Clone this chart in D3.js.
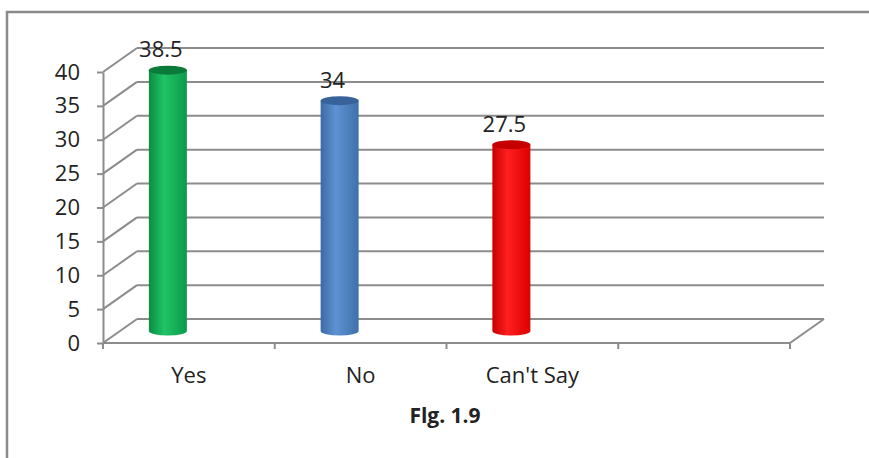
<!DOCTYPE html>
<html>
<head>
<meta charset="utf-8">
<script src="https://cdn.jsdelivr.net/npm/d3@7"></script>
<style>
  html, body { margin: 0; padding: 0; background: #fff; }
  svg { display: block; }
  text { font-family: "Open Sans", sans-serif; fill: #222; }
</style>
</head>
<body>
<div id="chart"></div>
<script>
// Survey responses (percent)
const categories = ["Yes", "No", "Can't Say", " "];
const values = [38.5, 34, 27.5];
const yTicks = [0, 5, 10, 15, 20, 25, 30, 35, 40];
const barColors = [
  { edge: "#0a8c42", light: "#20c466", right: "#0c9a4a", top: "#0a7a3a" },
  { edge: "#3b6ba6", light: "#5e92d2", right: "#3f70aa", top: "#38639a" },
  { edge: "#c80000", light: "#ff1f1f", right: "#dc0000", top: "#c40000" }
];
const caption = "Flg. 1.9";

const W = 869, H = 458;
const svg = d3.select("#chart").append("svg").attr("width", W).attr("height", H);

// outer frame (runs off the right and bottom edge)
svg.append("rect")
  .attr("x", 7).attr("y", 12).attr("width", W).attr("height", H)
  .attr("fill", "#fff").attr("stroke", "#8a8a8a").attr("stroke-width", 2.5);

// front plane scales
const x = d3.scaleBand().domain(categories).range([103, 790]);
const y = d3.scaleLinear().domain([0, 40]).range([343, 72]);
// depth offset of the back wall
const depth = { dx: 34, dy: -24 };
const gridColor = "#8c8c8c";

const walls = svg.append("g").attr("fill", "none").attr("stroke", gridColor).attr("stroke-width", 2);

// back wall gridlines and side-wall diagonals
yTicks.forEach(t => {
  walls.append("line")
    .attr("x1", x.range()[0] + depth.dx).attr("y1", y(t) + depth.dy)
    .attr("x2", x.range()[1] + depth.dx).attr("y2", y(t) + depth.dy);
  walls.append("line")
    .attr("x1", x.range()[0]).attr("y1", y(t))
    .attr("x2", x.range()[0] + depth.dx).attr("y2", y(t) + depth.dy);
});
// floor: front edge and right diagonal
walls.append("line")
  .attr("x1", x.range()[0]).attr("y1", y(0))
  .attr("x2", x.range()[1]).attr("y2", y(0));
walls.append("line")
  .attr("x1", x.range()[1]).attr("y1", y(0))
  .attr("x2", x.range()[1] + depth.dx).attr("y2", y(0) + depth.dy);

// category ticks at band boundaries
const bounds = categories.map(c => x(c)).concat([x.range()[1]]);
walls.selectAll(".xtick").data(bounds).enter().append("line")
  .attr("x1", d => d).attr("x2", d => d)
  .attr("y1", y(0)).attr("y2", y(0) + 6);

// value axis
const yAxis = svg.append("g")
  .attr("transform", `translate(${x.range()[0]},0)`)
  .call(d3.axisLeft(y).tickValues(yTicks).tickSize(6).tickSizeOuter(0).tickPadding(17));
yAxis.select(".domain").attr("stroke", gridColor).attr("stroke-width", 2);
yAxis.selectAll(".tick line").attr("stroke", gridColor).attr("stroke-width", 2);
yAxis.selectAll(".tick text")
  .style("font-family", "'Open Sans', sans-serif").style("font-size", "22px").attr("fill", "#222");

// category labels
svg.selectAll(".xlabel").data(categories).enter().append("text")
  .attr("x", d => x(d) + x.bandwidth() / 2)
  .attr("y", 383)
  .attr("text-anchor", "middle")
  .style("font-size", "22px")
  .text(d => d.trim());

// cylinders sit half way into the depth
const defs = svg.append("defs");
barColors.forEach((c, i) => {
  const g = defs.append("linearGradient").attr("id", "cyl" + i)
    .attr("x1", "0%").attr("x2", "100%").attr("y1", "0%").attr("y2", "0%");
  g.append("stop").attr("offset", "0%").attr("stop-color", c.edge);
  g.append("stop").attr("offset", "40%").attr("stop-color", c.light);
  g.append("stop").attr("offset", "100%").attr("stop-color", c.right);
});

const rx = 19, ry = 4.5;
const barShift = -21;
const midDy = depth.dy / 2;
const bars = svg.append("g");
values.forEach((v, i) => {
  const cx = x(categories[i]) + x.bandwidth() / 2 + barShift;
  const yTop = y(v) + midDy;
  const yBot = y(0) + midDy;
  const c = barColors[i];
  bars.append("path")
    .attr("d", `M${cx - rx},${yTop} L${cx - rx},${yBot} A${rx},${ry} 0 0 0 ${cx + rx},${yBot} L${cx + rx},${yTop} Z`)
    .attr("fill", `url(#cyl${i})`);
  bars.append("ellipse")
    .attr("cx", cx).attr("cy", yTop).attr("rx", rx).attr("ry", ry)
    .attr("fill", c.top);
  bars.append("text")
    .attr("x", cx - 7).attr("y", yTop - 13)
    .attr("text-anchor", "middle")
    .style("font-size", "22px")
    .text(v);
});

// figure caption
svg.append("text")
  .attr("x", 445).attr("y", 423)
  .attr("text-anchor", "middle")
  .style("font-size", "21px").style("font-weight", "bold")
  .text(caption);
</script>
</body>
</html>
